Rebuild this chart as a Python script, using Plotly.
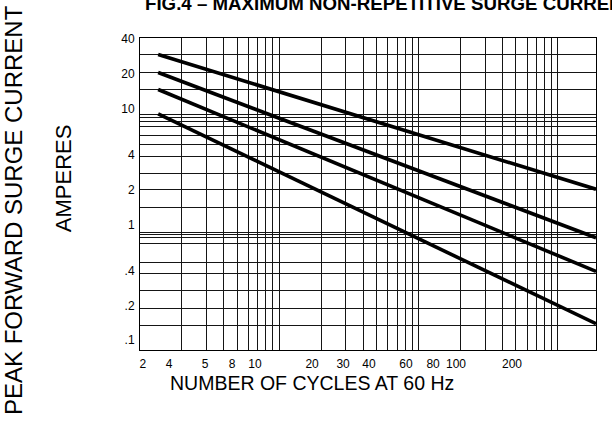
import plotly.graph_objects as go

# ---- data ----
CYCLES = [1.35, 1877]                 # start / end of every curve, cycles (grid units)
CURVE_1 = [29.5, 2.02]                # peak surge current, A
CURVE_2 = [20.6, 0.77]
CURVE_3 = [14.7, 0.394]
CURVE_4 = [9.05, 0.139]

X_TICK_TEXT = ["2", "4", "5", "8", "10", "20", "30", "40", "60", "80", "100", "200"]
X_TICK_VALS = [1.05, 1.615, 2.93, 4.58, 6.69, 17.2, 28.7, 44.0, 81.2, 127, 185.5, 468]
Y_TICK_TEXT = ["40", "20", "10", "4", "2", "1", ".4", ".2", ".1"]
Y_TICK_VALS = [40, 20, 10, 4, 2, 1, 0.4, 0.2, 0.1]

# irregular horizontal rulings of the printed graph paper (A)
Y_GRID = [29.4, 20.6, 14.7, 9.02, 8.49, 7.84, 7.10, 5.93, 4.96, 3.91, 2.78, 1.995,
          1.41, 0.86, 0.82, 0.767, 0.681, 0.469, 0.375, 0.267, 0.188, 0.134]

FONT = "Liberation Sans, Arial, Helvetica, sans-serif"

fig = go.Figure()
for ys in (CURVE_1, CURVE_2, CURVE_3, CURVE_4):
    fig.add_trace(go.Scatter(x=CYCLES, y=ys, mode="lines",
                             line=dict(color="black", width=3.6),
                             showlegend=False, hoverinfo="skip"))

fig.update_layout(
    width=612, height=421,
    margin=dict(l=140, r=16, t=38, b=71),
    paper_bgcolor="white", plot_bgcolor="white",
    xaxis=dict(
        type="log", range=[0, 3.2735],
        tickmode="array", tickvals=X_TICK_VALS, ticktext=X_TICK_TEXT,
        showgrid=False, ticks="", zeroline=False, ticklabelstandoff=3,
        showline=True, mirror=True, linecolor="black", linewidth=1,
        tickfont=dict(family=FONT, size=12, color="black"),
        minor=dict(dtick="D1", showgrid=True, gridcolor="#151515", gridwidth=1, ticks=""),
    ),
    yaxis=dict(
        type="log", range=[-1.084, 1.6125],
        tickmode="array", tickvals=Y_TICK_VALS, ticktext=Y_TICK_TEXT,
        showgrid=False, ticks="", zeroline=False, ticklabelstandoff=2,
        showline=True, mirror=True, linecolor="black", linewidth=1,
        tickfont=dict(family=FONT, size=12, color="black"),
        minor=dict(tickmode="array", tickvals=Y_GRID, showgrid=True,
                   gridcolor="#151515", gridwidth=1, ticks=""),
    ),
    annotations=[
        dict(text="<b>FIG.4 – MAXIMUM NON-REPETITIVE SURGE CURRENT</b>",
             xref="paper", yref="paper", x=0.0066, y=1.11,
             xanchor="left", yanchor="middle", showarrow=False,
             font=dict(family=FONT, size=18.7, color="black")),
        dict(text="PEAK FORWARD SURGE CURRENT", textangle=-90,
             xref="paper", yref="paper", x=-0.276, y=0.449,
             xanchor="center", yanchor="middle", showarrow=False,
             font=dict(family=FONT, size=24, color="black")),
        dict(text="AMPERES", textangle=-90,
             xref="paper", yref="paper", x=-0.168, y=0.552,
             xanchor="center", yanchor="middle", showarrow=False,
             font=dict(family=FONT, size=22, color="black")),
        dict(text="NUMBER OF CYCLES AT 60 Hz",
             xref="paper", yref="paper", x=0.377, y=-0.106,
             xanchor="center", yanchor="middle", showarrow=False,
             font=dict(family=FONT, size=19.5, color="black")),
    ],
)

fig.write_html("out.html", config={"displayModeBar": False},
               post_script="document.body.style.margin='0';")
